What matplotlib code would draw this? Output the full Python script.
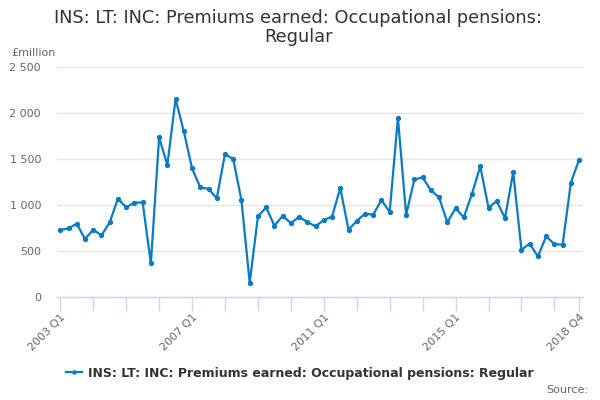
import matplotlib
matplotlib.use("Agg")
import matplotlib.pyplot as plt

# Quarterly values, £million, 2003 Q1 .. 2018 Q4
values = [
    728, 746, 797, 630, 732, 670, 811, 1068,
    974, 1025, 1028, 365, 1735, 1435, 2152, 1800,
    1398, 1191, 1177, 1072, 1554, 1500, 1050, 155,
    876, 974, 775, 880, 804, 870, 815, 768,
    837, 873, 1185, 732, 826, 905, 895, 1054,
    924, 1946, 895, 1278, 1300, 1159, 1083, 811,
    963, 865, 1123, 1420, 971, 1043, 858, 1355,
    514, 579, 441, 659, 576, 568, 1242, 1492,
]
quarters = [f"{y} Q{q}" for y in range(2003, 2019) for q in range(1, 5)]
label_quarters = ["2003 Q1", "2007 Q1", "2011 Q1", "2015 Q1", "2018 Q4"]
y_ticks = [0, 500, 1000, 1500, 2000, 2500]
y_labels = ["0", "500", "1 000", "1 500", "2 000", "2 500"]

title = "INS: LT: INC: Premiums earned: Occupational pensions:\nRegular"
series_name = "INS: LT: INC: Premiums earned: Occupational pensions: Regular"

line_color = "#0a7bc2"
axis_color = "#ccd6eb"
grid_color = "#e6e6e6"
text_grey = "#666666"

fig = plt.figure(figsize=(6, 4), dpi=100)
ax = fig.add_axes([0.095, 0.2575, 0.877, 0.575])

x = list(range(len(values)))
ax.plot(x, values, color=line_color, lw=1.6, marker="o", markersize=2.8,
        label=series_name, zorder=3)

ax.set_xlim(-0.4, len(values) - 0.5)
ax.set_ylim(0, 2500)

# y axis: gridlines only
ax.set_yticks(y_ticks)
ax.set_yticklabels(y_labels)
ax.yaxis.grid(True, color=grid_color, lw=1)
ax.tick_params(axis="y", length=0, pad=11.5, labelsize=8, labelcolor=text_grey)

# x axis: tick every year, labels at a few quarters
tick_pos = [i for i, q in enumerate(quarters) if q.endswith("Q1")] + [len(values) - 1]
ax.set_xticks(tick_pos)
ax.set_xticklabels([quarters[i] if quarters[i] in label_quarters else "" for i in tick_pos])
ax.tick_params(axis="x", length=10, width=1, color=axis_color, labelsize=8,
               labelcolor=text_grey, pad=1)
for lbl in ax.get_xticklabels():
    lbl.set_rotation(45)
    lbl.set_horizontalalignment("right")
    lbl.set_rotation_mode("anchor")

for side in ["top", "right", "left"]:
    ax.spines[side].set_visible(False)
ax.spines["bottom"].set_color(axis_color)
ax.spines["bottom"].set_linewidth(1)
ax.set_axisbelow(True)

fig.text(0.497, 0.978, title, ha="center", va="top", fontsize=12.8, color="#333333",
         linespacing=1.1)
fig.text(0.018, 0.8675, "£million", ha="left", va="center", fontsize=8, color=text_grey)
fig.text(0.98, 0.0125, "Source:", ha="right", va="bottom", fontsize=8, color=text_grey)

leg = fig.legend(loc="center", bbox_to_anchor=(0.5, 0.067), frameon=False,
                 prop={"weight": "bold", "size": 9}, handlelength=1.3,
                 handletextpad=0.5, markerscale=0.8)
for t in leg.get_texts():
    t.set_color("#333333")

fig.savefig("out.png", dpi=100)
